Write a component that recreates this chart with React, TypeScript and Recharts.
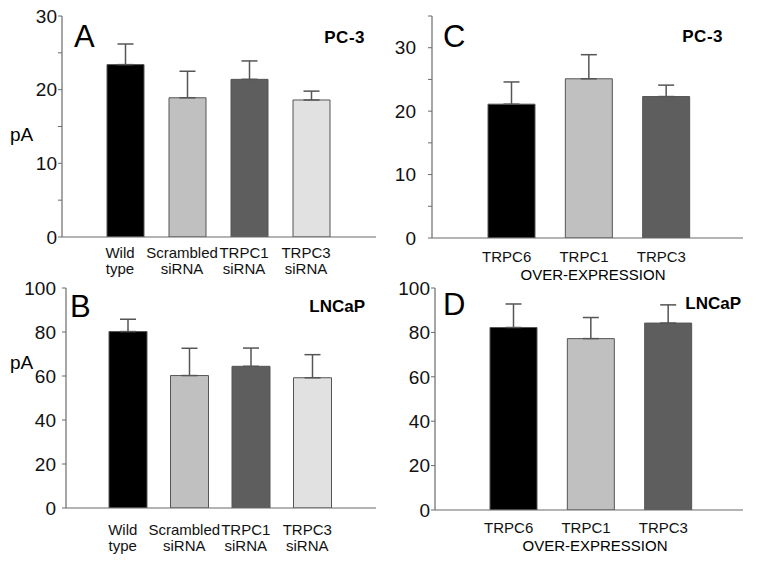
import React from 'react';
import { BarChart, Bar, XAxis, YAxis, ErrorBar, Cell } from 'recharts';

const FONT = '"Liberation Sans", Arial, Helvetica, sans-serif';
const AXIS_COLOR = '#6b6b6b';
const BAR_EDGE = '#555555';

// A / B: siRNA knockdown
const knockdownLabels = ['Wild\ntype', 'Scrambled\nsiRNA', 'TRPC1\nsiRNA', 'TRPC3\nsiRNA'];
const knockdownColors = ['#000000', '#c0c0c0', '#5e5e5e', '#e1e1e1'];
const pc3KnockdownMean = [23.4, 18.9, 21.4, 18.6];
const pc3KnockdownErr = [2.8, 3.6, 2.5, 1.2];
const lncapKnockdownMean = [80.2, 60.2, 64.4, 59.2];
const lncapKnockdownErr = [5.6, 12.4, 8.3, 10.5];

// C / D: over-expression
const overLabels = ['TRPC6', 'TRPC1', 'TRPC3'];
const overColors = ['#000000', '#c0c0c0', '#5e5e5e'];
const pc3OverMean = [21.1, 25.1, 22.3];
const pc3OverErr = [3.5, 3.8, 1.8];
const lncapOverMean = [82.2, 77.2, 84.2];
const lncapOverErr = [10.6, 9.5, 8.2];

// y ticks (every 5 on the PC-3 panels, labels only on the tens)
const pc3KnockdownTicks = [0, 5, 10, 15, 20, 25, 30];
const pc3OverTicks = [0, 5, 10, 15, 20, 25, 30, 35];
const lncapTicks = [0, 20, 40, 60, 80, 100];

const buildRows = (labels: string[], mean: number[], err: number[]) =>
  labels.map((name, i) => ({ name, value: mean[i], err: [0, err[i]] }));

const CategoryTick = (props: any) => {
  const { x, y, payload, lineDy, dx } = props;
  const lines = String(payload.value).split('\n');
  return (
    <g>
      {lines.map((line: string, i: number) => (
        <text
          key={i}
          x={x + dx}
          y={y + lineDy[i]}
          textAnchor="middle"
          fontSize={15}
          fontFamily={FONT}
          fill="#111"
        >
          {line}
        </text>
      ))}
    </g>
  );
};

interface PanelProps {
  left: number;
  top: number;
  width: number;
  height: number;
  marginTop: number;
  marginRight: number;
  yWidth: number;
  xHeight: number;
  tickMargin: number;
  domain: [number, number];
  ticks: number[];
  labelStep: number;
  padding: { left: number; right: number };
  barSize: number;
  rows: any[];
  colors: string[];
  lineDy: number[];
}

const Panel: React.FC<PanelProps> = ({
  left, top, width, height, marginTop, marginRight, yWidth, xHeight, tickMargin,
  domain, ticks, labelStep, padding, barSize, rows, colors, lineDy
}) => (
  <div style={{ position: 'absolute', left, top }}>
    <BarChart
      width={width}
      height={height}
      data={rows}
      margin={{ top: marginTop, right: marginRight, bottom: 0, left: 0 }}
    >
      <XAxis
        xAxisId="bottom"
        dataKey="name"
        height={xHeight}
        padding={padding}
        interval={0}
        tickLine={false}
        tickSize={0}
        tickMargin={0}
        axisLine={{ stroke: AXIS_COLOR, strokeWidth: 1.2 }}
        tick={(p: any) => <CategoryTick {...p} lineDy={lineDy} dx={-5} />}
      />
      <XAxis
        xAxisId="top"
        orientation="top"
        dataKey="name"
        height={0}
        padding={padding}
        tick={false}
        tickLine={false}
        axisLine={{ stroke: AXIS_COLOR, strokeWidth: 1.2 }}
      />
      <YAxis
        yAxisId="left"
        width={yWidth}
        domain={domain}
        ticks={ticks}
        interval={0}
        allowDataOverflow
        tickSize={4}
        tickMargin={tickMargin}
        tickFormatter={(v: number) => (v % labelStep === 0 && v <= domain[1] ? String(v) : '')}
        tickLine={{ stroke: AXIS_COLOR }}
        axisLine={{ stroke: AXIS_COLOR, strokeWidth: 1.2 }}
        tick={{ fontSize: 19, fill: '#111', fontFamily: FONT }}
      />
      <YAxis
        yAxisId="right"
        orientation="right"
        width={0}
        domain={domain}
        tick={false}
        tickLine={false}
        axisLine={{ stroke: AXIS_COLOR, strokeWidth: 1.2 }}
      />
      <Bar
        xAxisId="bottom"
        yAxisId="left"
        dataKey="value"
        barSize={barSize}
        stroke={BAR_EDGE}
        strokeWidth={1}
        isAnimationActive={false}
      >
        {rows.map((_, i) => (
          <Cell key={i} fill={colors[i]} />
        ))}
        <ErrorBar dataKey="err" width={8} stroke="#555" strokeWidth={1.5} direction="y" />
      </Bar>
    </BarChart>
  </div>
);

const labelStyle = { fontFamily: FONT, fill: '#000' };

export default function App() {
  return (
    <div style={{ position: 'absolute', left: 0, top: 0, width: 759, height: 565, background: '#fff' }}>
      <Panel
        left={0} top={0} width={380} height={280}
        marginTop={16} marginRight={4} yWidth={62} xHeight={43} tickMargin={1}
        domain={[0, 30]} ticks={pc3KnockdownTicks} labelStep={10}
        padding={{ left: 32, right: 34 }} barSize={37}
        rows={buildRows(knockdownLabels, pc3KnockdownMean, pc3KnockdownErr)}
        colors={knockdownColors} lineDy={[21, 37]}
      />
      <Panel
        left={0} top={268} width={380} height={297}
        marginTop={20} marginRight={4} yWidth={66} xHeight={57} tickMargin={6}
        domain={[0, 100]} ticks={lncapTicks} labelStep={20}
        padding={{ left: 31, right: 33 }} barSize={38}
        rows={buildRows(knockdownLabels, lncapKnockdownMean, lncapKnockdownErr)}
        colors={knockdownColors} lineDy={[27, 43]}
      />
      <Panel
        left={380} top={0} width={379} height={280}
        marginTop={16} marginRight={16} yWidth={52} xHeight={42} tickMargin={12}
        domain={[0, 35]} ticks={pc3OverTicks} labelStep={10}
        padding={{ left: 41, right: 38 }} barSize={47}
        rows={buildRows(overLabels, pc3OverMean, pc3OverErr)}
        colors={overColors} lineDy={[24]}
      />
      <Panel
        left={380} top={268} width={379} height={297}
        marginTop={20} marginRight={16} yWidth={55} xHeight={55} tickMargin={1}
        domain={[0, 100]} ticks={lncapTicks} labelStep={20}
        padding={{ left: 40, right: 36 }} barSize={47}
        rows={buildRows(overLabels, lncapOverMean, lncapOverErr)}
        colors={overColors} lineDy={[23]}
      />
      <svg
        width={759}
        height={565}
        style={{ position: 'absolute', left: 0, top: 0, pointerEvents: 'none' }}
      >
        <text x={74} y={47} fontSize={31} {...labelStyle}>A</text>
        <text x={70} y={317} fontSize={31} {...labelStyle}>B</text>
        <text x={443} y={47} fontSize={31} {...labelStyle}>C</text>
        <text x={443} y={315} fontSize={31} {...labelStyle}>D</text>

        <text x={365} y={43} fontSize={17} fontWeight="bold" letterSpacing={0.5} textAnchor="end" {...labelStyle}>PC-3</text>
        <text x={365} y={312} fontSize={17} fontWeight="bold" textAnchor="end" {...labelStyle}>LNCaP</text>
        <text x={723} y={42} fontSize={17} fontWeight="bold" letterSpacing={0.5} textAnchor="end" {...labelStyle}>PC-3</text>
        <text x={741} y={309} fontSize={17} fontWeight="bold" textAnchor="end" {...labelStyle}>LNCaP</text>

        <text x={10} y={141} fontSize={19} {...labelStyle}>pA</text>
        <text x={10} y={369} fontSize={19} {...labelStyle}>pA</text>

        <text x={593} y={280} fontSize={15} textAnchor="middle" {...labelStyle}>OVER-EXPRESSION</text>
        <text x={595} y={551} fontSize={15} textAnchor="middle" {...labelStyle}>OVER-EXPRESSION</text>
      </svg>
    </div>
  );
}
